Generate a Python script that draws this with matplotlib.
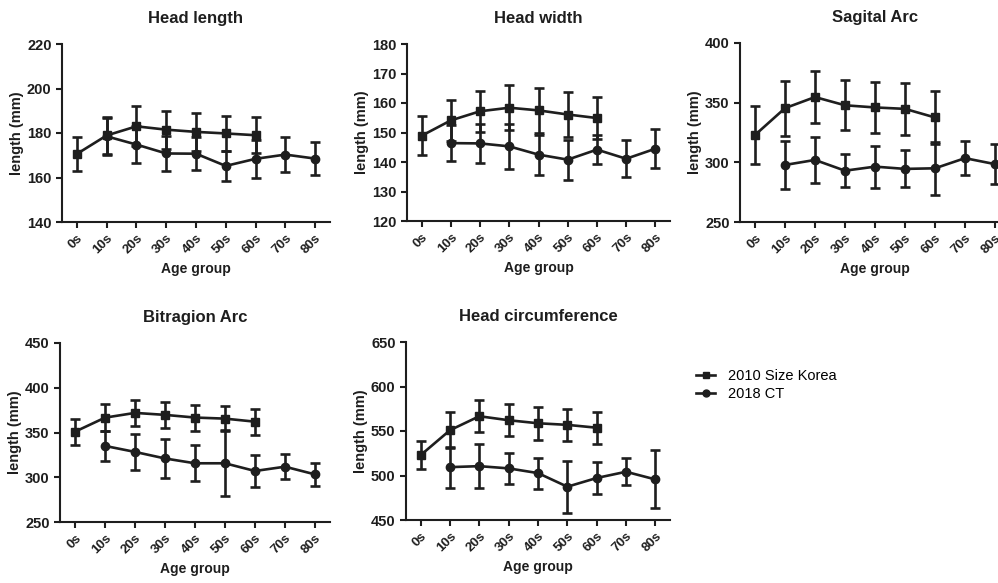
import numpy as np
import matplotlib.pyplot as plt
from matplotlib.lines import Line2D

plt.rcParams['font.family'] = ['Liberation Sans', 'DejaVu Sans']

age_groups = ['0s', '10s', '20s', '30s', '40s', '50s', '60s', '70s', '80s']
nan = np.nan

# 2010 Size Korea (means, sd), 0s..60s
head_length_korea = [170.6, 178.9, 183.0, 181.5, 180.5, 179.8, 179.0]
head_length_korea_sd = [7.5, 8.5, 9.0, 8.5, 8.5, 7.7, 8.0]
head_width_korea = [148.9, 154.1, 157.2, 158.4, 157.5, 156.1, 154.9]
head_width_korea_sd = [6.6, 7.0, 7.0, 7.6, 7.5, 7.7, 7.0]
sagital_korea = [322.9, 345.4, 354.7, 347.8, 346.0, 344.8, 337.6]
sagital_korea_sd = [24.0, 23.0, 22.0, 21.0, 21.5, 22.0, 22.0]
bitragion_korea = [350.9, 366.6, 371.9, 369.7, 366.7, 365.5, 362.1]
bitragion_korea_sd = [14.7, 15.0, 14.3, 14.3, 14.5, 14.0, 14.5]
circumference_korea = [522.9, 550.9, 566.6, 562.1, 558.7, 556.9, 553.7]
circumference_korea_sd = [15.5, 20.0, 18.0, 18.0, 18.5, 18.0, 18.0]

# 2018 CT (means, sd), 0s..80s (no 0s group)
head_length_ct = [nan, 178.5, 174.8, 170.8, 170.7, 165.2, 168.4, 170.3, 168.5]
head_length_ct_sd = [nan, 8.3, 8.5, 7.7, 7.3, 6.8, 8.5, 8.0, 7.5]
head_width_ct = [nan, 146.4, 146.3, 145.3, 142.5, 140.8, 144.2, 141.1, 144.5]
head_width_ct_sd = [nan, 6.0, 6.5, 7.6, 6.8, 6.8, 4.8, 6.3, 6.7]
sagital_ct = [nan, 297.8, 302.0, 293.0, 296.4, 294.5, 295.0, 303.5, 298.5]
sagital_ct_sd = [nan, 20.0, 19.5, 14.0, 17.5, 15.5, 22.0, 14.0, 17.0]
bitragion_ct = [nan, 335.0, 328.3, 321.0, 315.6, 315.6, 307.0, 311.8, 303.2]
bitragion_ct_sd = [nan, 17.0, 20.5, 22.0, 20.0, 37.0, 18.0, 14.0, 13.0]
circumference_ct = [nan, 509.4, 510.5, 508.0, 502.7, 487.4, 497.2, 504.2, 495.6]
circumference_ct_sd = [nan, 23.0, 25.0, 17.5, 17.5, 29.0, 18.5, 15.0, 32.5]

W, H = 998, 583
fig = plt.figure(figsize=(W / 100, H / 100), dpi=100)
ink = '#1e1e1e'


def make_axes(left, right, top, bottom):
    return fig.add_axes([left / W, 1 - bottom / H, (right - left) / W, (bottom - top) / H])


panels = [
    ('Head length', (62, 330, 44, 222), (140, 220), 20,
     head_length_korea, head_length_korea_sd, head_length_ct, head_length_ct_sd),
    ('Head width', (407, 670, 44, 221), (120, 180), 10,
     head_width_korea, head_width_korea_sd, head_width_ct, head_width_ct_sd),
    ('Sagital Arc', (740, 1010, 43, 222), (250, 400), 50,
     sagital_korea, sagital_korea_sd, sagital_ct, sagital_ct_sd),
    ('Bitragion Arc', (60, 330, 343, 522), (250, 450), 50,
     bitragion_korea, bitragion_korea_sd, bitragion_ct, bitragion_ct_sd),
    ('Head circumference', (406, 670, 342, 520), (450, 650), 50,
     circumference_korea, circumference_korea_sd, circumference_ct, circumference_ct_sd),
]

err_kw = dict(color=ink, lw=1.9, elinewidth=1.9, capsize=3.5, capthick=1.9, markersize=6)

for title, box, ylim, step, k, k_sd, c, c_sd in panels:
    ax = make_axes(*box)
    ax.errorbar(np.arange(len(k)), k, yerr=k_sd, marker='s', **err_kw)
    ax.errorbar(np.arange(len(c)), c, yerr=c_sd, marker='o', **err_kw)
    ax.set_xlim(-0.5, 8.5)
    ax.set_ylim(*ylim)
    ax.set_yticks(np.arange(ylim[0], ylim[1] + 1, step))
    ax.set_xticks(np.arange(len(age_groups)))
    ax.set_xticklabels(age_groups, rotation=45, ha='right', rotation_mode='anchor')
    for lab in ax.get_xticklabels():
        lab.set_fontweight('bold')
        lab.set_fontsize(9.5)
    for lab in ax.get_yticklabels():
        lab.set_fontweight('bold')
        lab.set_fontsize(10.5)
    ax.tick_params(width=1.5, length=4, colors=ink, labelcolor=ink)
    for s in ['top', 'right']:
        ax.spines[s].set_visible(False)
    for s in ['left', 'bottom']:
        ax.spines[s].set_linewidth(1.5)
        ax.spines[s].set_color(ink)
    ax.set_title(title, fontsize=12, fontweight='bold', color=ink, pad=15)
    ax.set_xlabel('Age group', fontsize=10, fontweight='bold', color=ink)
    ax.set_ylabel('length (mm)', fontsize=10.5, fontweight='bold', color=ink, labelpad=2)

handles = [Line2D([], [], color=ink, lw=1.9, marker='s', markersize=5),
           Line2D([], [], color=ink, lw=1.9, marker='o', markersize=5)]
fig.legend(handles, ['2010 Size Korea', '2018 CT'], loc='upper left',
           bbox_to_anchor=(683 / W, 1 - 356 / H), frameon=False, fontsize=10.5,
           handlelength=1.3, handletextpad=0.9, labelspacing=0.3)

fig.savefig('out.png', dpi=100)
